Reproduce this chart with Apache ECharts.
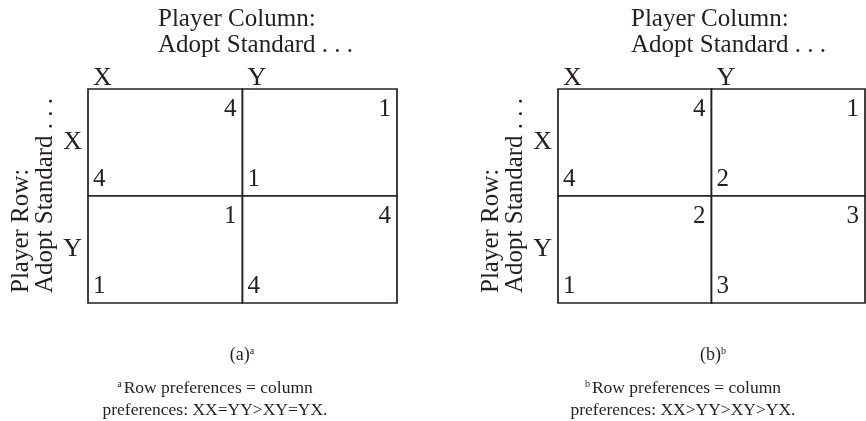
<!DOCTYPE html>
<html>
<head>
<meta charset="utf-8">
<script src="https://cdn.jsdelivr.net/npm/echarts@6/dist/echarts.min.js"></script>
<style>html,body{margin:0;padding:0;background:#fff;}#c{width:866px;height:421px;}</style>
</head>
<body>
<div id="c"></div>
<script>
// Strategies (categories) for both players
const strategies = ['X', 'Y'];
// Payoffs listed in cell order: (row X, col X), (row X, col Y), (row Y, col X), (row Y, col Y)
const rowPayoffA = [4, 1, 1, 4];
const colPayoffA = [4, 1, 1, 4];
const rowPayoffB = [4, 2, 1, 3];
const colPayoffB = [4, 1, 2, 3];
// Texts
const colTitle = ['Player Column:', 'Adopt Standard . . .'];
const rowTitle = ['Player Row:', 'Adopt Standard . . .'];
const panelLabels = ['a', 'b'];
const footnoteA = ['Row preferences = column', 'preferences: XX=YY>XY=YX.'];
const footnoteB = ['Row preferences = column', 'preferences: XX>YY>XY>YX.'];

const INK = '#231f20';
const FONT = '"Liberation Serif", "DejaVu Serif", serif';

function cells(rowPay, colPay) {
  const out = [];
  strategies.forEach((rs, r) => {
    strategies.forEach((cs, c) => {
      const k = r * strategies.length + c;
      out.push([c, r, rowPay[k], colPay[k]]);
    });
  });
  return out;
}

function renderCell(params, api) {
  const c = api.value(0), r = api.value(1);
  const p = api.coord([c, r]);
  const sz = api.size([1, 1]);
  const x0 = p[0], y0 = p[1] - sz[1] / 2, w = sz[0], h = sz[1];
  return {
    type: 'group',
    children: [
      { type: 'rect', shape: { x: x0, y: y0, width: w, height: h },
        style: { fill: '#fff', stroke: INK, lineWidth: 1.7 } },
      { type: 'text', style: { text: String(api.value(3)), x: x0 + w - 6, y: y0 + 8,
        align: 'right', verticalAlign: 'top', font: '25px ' + FONT, fill: INK } },
      { type: 'text', style: { text: String(api.value(2)), x: x0 + 5, y: y0 + h - 4,
        align: 'left', verticalAlign: 'bottom', font: '25px ' + FONT, fill: INK } }
    ]
  };
}

function xAxisFor(gi) {
  return {
    gridIndex: gi, type: 'value', position: 'top', min: 0, max: strategies.length, interval: 1,
    axisLine: { show: false }, axisTick: { show: false }, splitLine: { show: false },
    axisLabel: { formatter: v => strategies[v] || '', align: 'left', margin: -2, padding: [0, 0, 0, 5],
      fontFamily: FONT, fontSize: 26, color: INK, showMaxLabel: false }
  };
}
function yAxisFor(gi) {
  return {
    gridIndex: gi, type: 'category', data: strategies, inverse: true,
    axisLine: { show: false }, axisTick: { show: false }, splitLine: { show: false },
    axisLabel: { margin: 6, fontFamily: FONT, fontSize: 26, color: INK, padding: [0, 0, 8, 0] }
  };
}

function titleTexts(left, textLines) {
  return textLines.map((t, i) => ({
    type: 'text', x: left, y: 19 + i * 26,
    style: { text: t, font: '25px ' + FONT, fill: INK, align: 'left', verticalAlign: 'middle' }
  }));
}
function rowTitleTexts(xBase, yStart, textLines) {
  return textLines.map((t, i) => ({
    type: 'text', x: xBase + i * 24, y: yStart, rotation: Math.PI / 2,
    style: { text: t, font: '25px ' + FONT, fill: INK, align: 'left', verticalAlign: 'middle' }
  }));
}
function caption(cx, label) {
  return {
    type: 'text', x: cx, y: 355,
    style: { text: '{n|(' + label + ')}{s|' + label + '}', align: 'center', verticalAlign: 'middle',
      rich: { n: { font: '18px ' + FONT, fill: INK }, s: { font: '10px ' + FONT, fill: INK, verticalAlign: 'top' } } }
  };
}
function footnote(cx, label, lines) {
  return lines.map((t, i) => ({
    type: 'text', x: cx, y: 388 + i * 22,
    style: { text: i === 0 ? '{s|' + label + '}{n|' + t + '}' : '{n|' + t + '}', align: 'center', verticalAlign: 'middle',
      rich: { n: { font: '17.5px ' + FONT, fill: INK }, s: { font: '10px ' + FONT, fill: INK, verticalAlign: 'top', padding: [0, 2, 0, 0] } } }
  }));
}

const chart = echarts.init(document.getElementById('c'), null, { renderer: 'canvas' });
chart.setOption({
  animation: false,
  backgroundColor: '#fff',
  grid: [
    { left: 88, top: 89, width: 309, height: 214 },
    { left: 558, top: 89, width: 307, height: 214 }
  ],
  xAxis: [xAxisFor(0), xAxisFor(1)],
  yAxis: [yAxisFor(0), yAxisFor(1)],
  series: [
    { type: 'custom', xAxisIndex: 0, yAxisIndex: 0, renderItem: renderCell, clip: false,
      encode: { x: 0, y: 1 }, data: cells(rowPayoffA, colPayoffA) },
    { type: 'custom', xAxisIndex: 1, yAxisIndex: 1, renderItem: renderCell, clip: false,
      encode: { x: 0, y: 1 }, data: cells(rowPayoffB, colPayoffB) }
  ],
  graphic: [
    ...titleTexts(158, colTitle),
    ...titleTexts(631, colTitle),
    ...rowTitleTexts(21, 293, rowTitle),
    ...rowTitleTexts(491, 293, rowTitle),
    caption(242, panelLabels[0]),
    caption(713, panelLabels[1]),
    ...footnote(215, panelLabels[0], footnoteA),
    ...footnote(683, panelLabels[1], footnoteB)
  ]
});
</script>
</body>
</html>
